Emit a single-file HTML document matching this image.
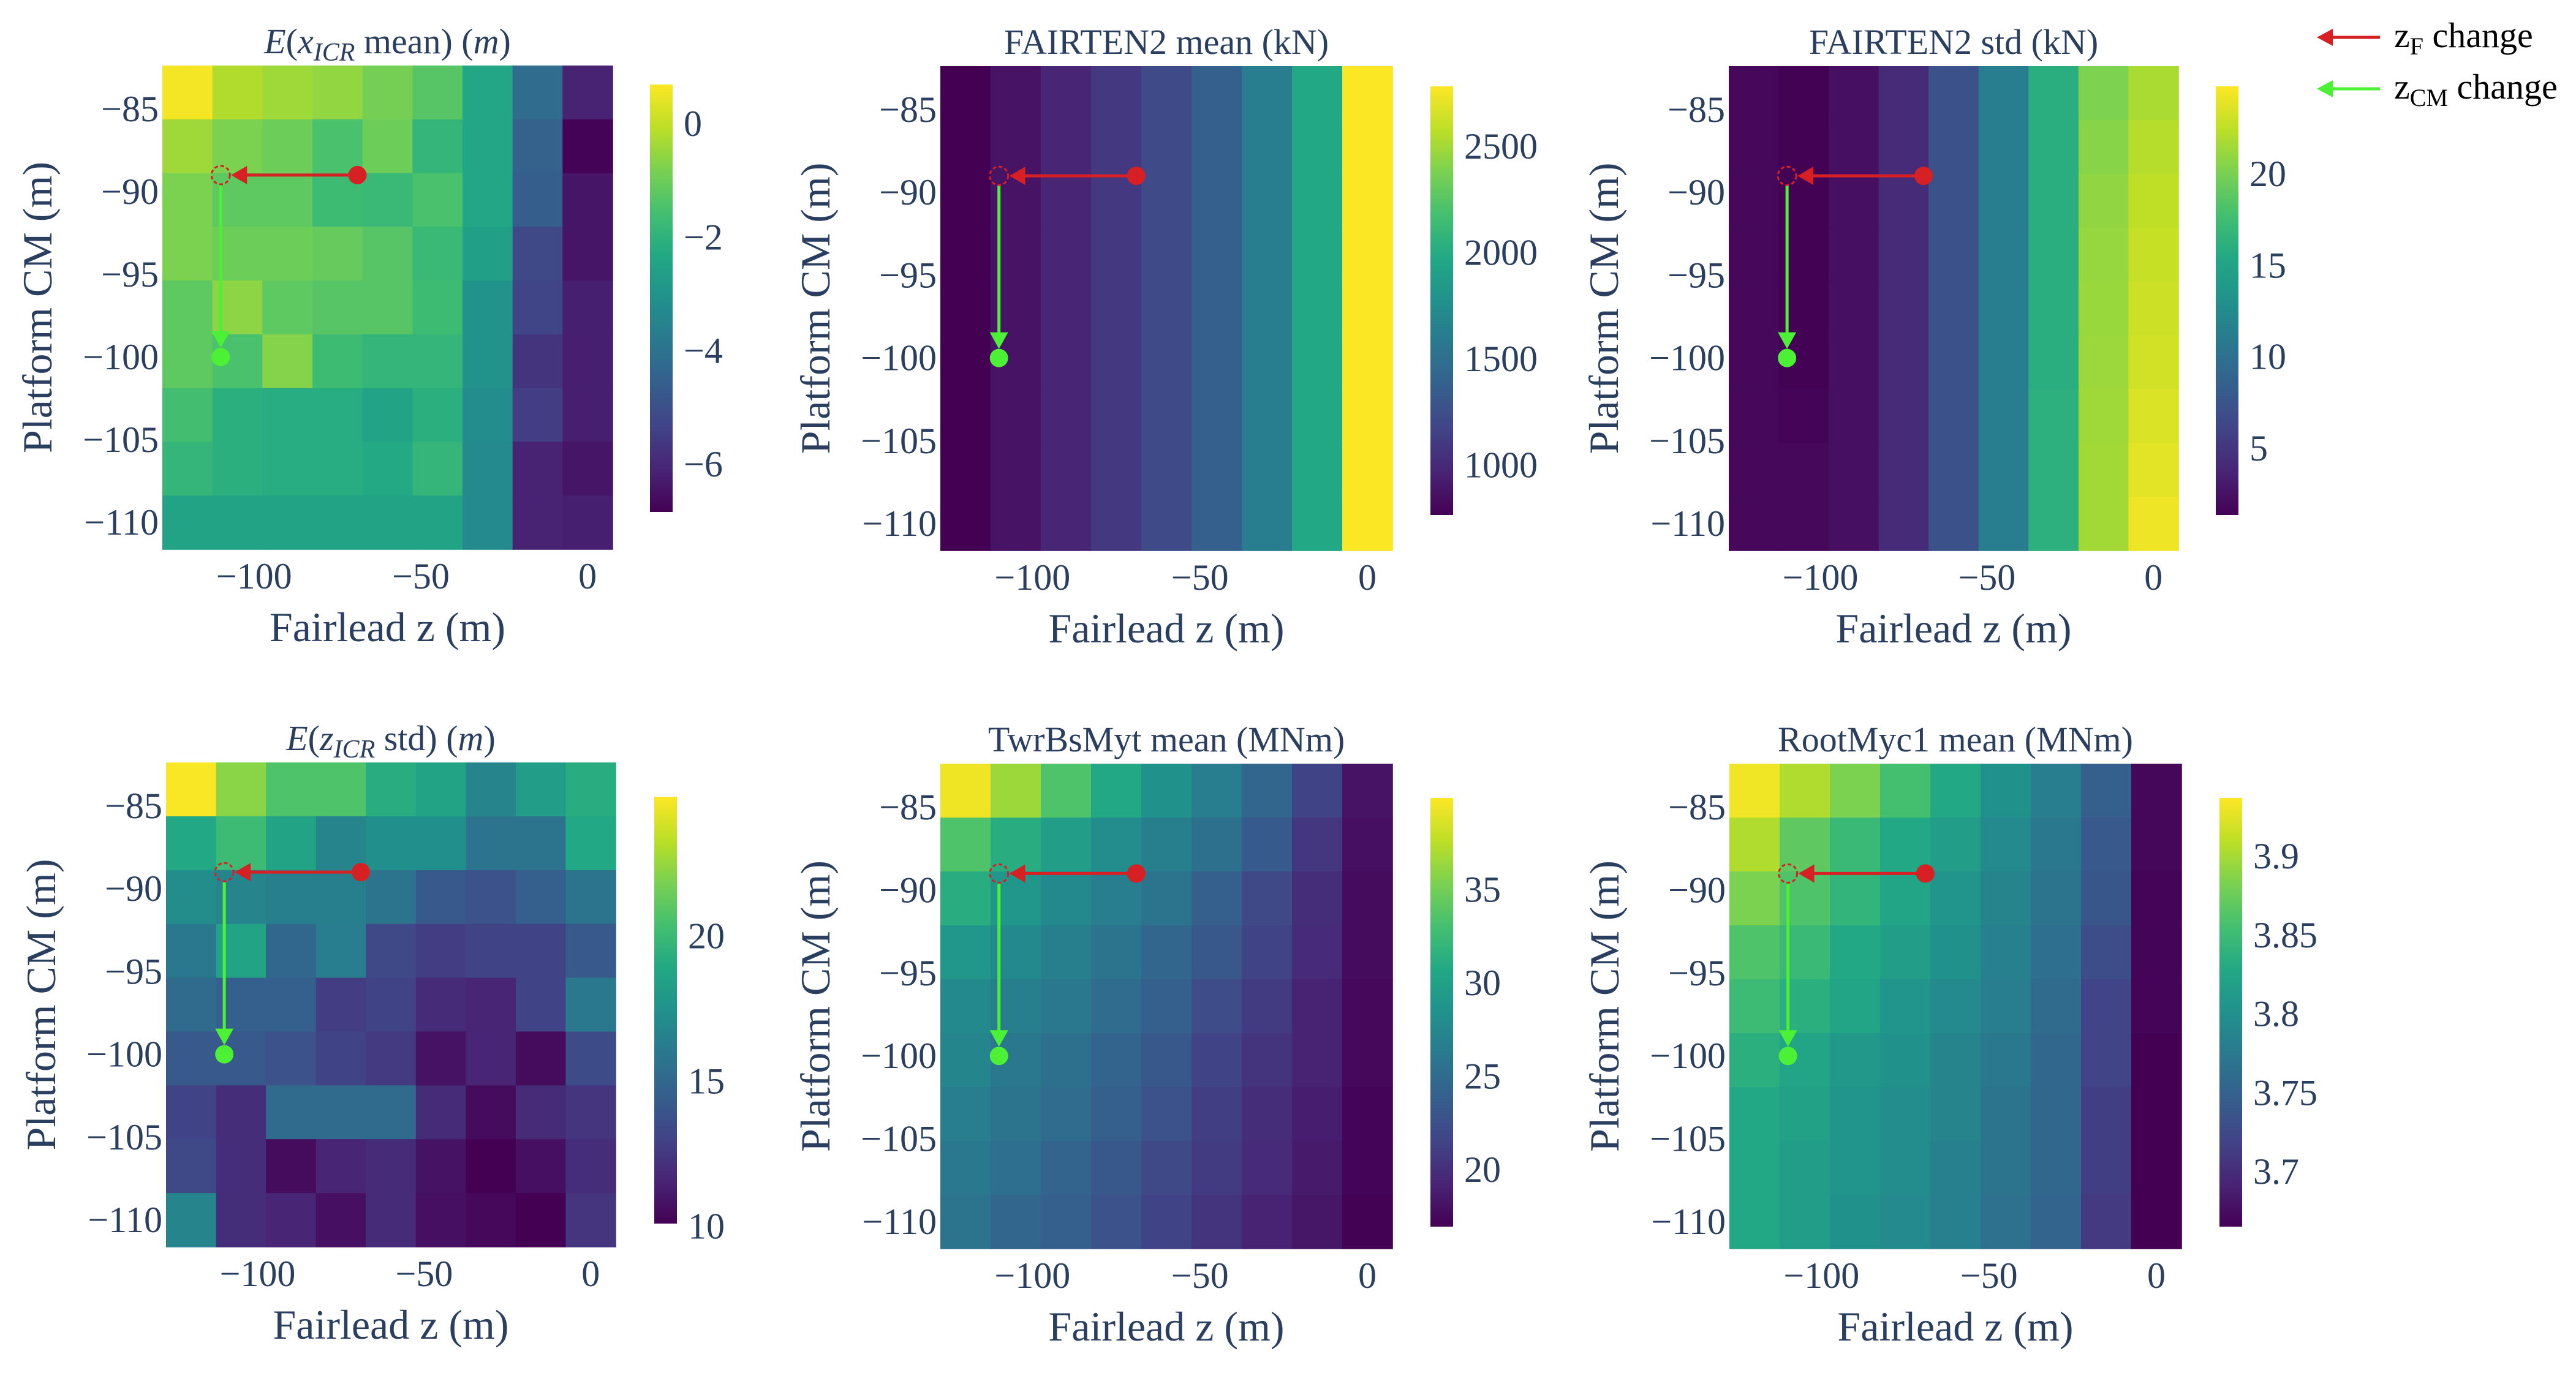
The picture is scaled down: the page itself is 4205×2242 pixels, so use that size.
<!DOCTYPE html>
<html><head><meta charset="utf-8">
<style>
html,body{margin:0;padding:0;background:#fff;}
svg{display:block;}
svg text{font-family:"Liberation Serif","DejaVu Serif",serif !important;}
</style></head>
<body>
<svg id="fig" xmlns="http://www.w3.org/2000/svg" width="4205" height="2242" viewBox="0 0 4205 2242" font-family="Liberation Serif, serif">
<defs>
<linearGradient id="viridis" x1="0" y1="1" x2="0" y2="0">
<stop offset="0" stop-color="#440154"/><stop offset="0.1" stop-color="#482475"/><stop offset="0.2" stop-color="#414487"/><stop offset="0.3" stop-color="#355f8d"/><stop offset="0.4" stop-color="#2a788e"/><stop offset="0.5" stop-color="#21918c"/><stop offset="0.6" stop-color="#22a884"/><stop offset="0.7" stop-color="#44bf70"/><stop offset="0.8" stop-color="#7ad151"/><stop offset="0.9" stop-color="#bddf26"/><stop offset="1" stop-color="#fde725"/>
</linearGradient>
</defs>
<g>
<g>
<line x1="3885" y1="61" x2="3805" y2="61" stroke="#d62024" stroke-width="5"/>
<polygon points="3782,61 3808,47 3808,75" fill="#d62024"/>
<text x="3908" y="77" font-size="58" fill="#000" font-family="Liberation Serif, serif">z<tspan font-size="40" dy="12">F</tspan><tspan dy="-12"> change</tspan></text>
</g>
<g>
<line x1="3885" y1="145" x2="3805" y2="145" stroke="#4cf035" stroke-width="5"/>
<polygon points="3782,145 3808,131 3808,159" fill="#4cf035"/>
<text x="3908" y="161" font-size="58" fill="#000" font-family="Liberation Serif, serif">z<tspan font-size="40" dy="12">CM</tspan><tspan dy="-12"> change</tspan></text>
</g>
</g>
</svg>
<script>
// Shared axes data
const xCats = [-120,-105,-90,-75,-60,-45,-30,-15,0];
const yCats = [-84,-87.25,-90.5,-93.75,-97,-100.25,-103.5,-106.75,-110];
const xTicks = [-100,-50,0];
const yTicks = [-85,-90,-95,-100,-105,-110];
const redStart = [-69, -89];
const pivot = [-110, -89];
const greenEnd = [-110, -100];

// Panel values (rows top->bottom, cols left->right)
const xicrMean = [
[0.6,-0.2,-0.4,-0.55,-0.9,-1.3,-2.4,-4.2,-6.1],
[-0.4,-0.8,-1.0,-1.5,-1.0,-1.9,-2.4,-4.5,-6.8],
[-0.8,-1.2,-1.2,-1.7,-1.8,-1.5,-2.4,-4.6,-6.4],
[-0.8,-1.0,-1.0,-1.1,-1.3,-1.8,-2.6,-5.2,-6.4],
[-1.2,-0.6,-1.2,-1.3,-1.3,-1.7,-3.0,-5.3,-6.2],
[-1.2,-1.5,-0.7,-1.7,-1.9,-1.9,-3.0,-5.7,-6.2],
[-1.6,-2.1,-2.2,-2.2,-2.5,-2.1,-3.2,-5.5,-6.2],
[-1.9,-2.1,-2.2,-2.2,-2.3,-1.9,-3.3,-6.1,-6.4],
[-2.5,-2.5,-2.5,-2.5,-2.5,-2.5,-3.3,-6.1,-6.2]];
const fairtenMean = [
[765,870,970,1090,1210,1370,1610,1975,2780],
[765,870,970,1090,1210,1370,1610,1975,2780],
[765,870,970,1090,1210,1370,1610,1975,2780],
[765,870,970,1090,1210,1370,1610,1975,2780],
[765,870,970,1090,1210,1370,1610,1975,2780],
[765,870,970,1090,1210,1370,1610,1975,2780],
[765,870,970,1090,1210,1370,1610,1975,2780],
[765,870,970,1090,1210,1370,1610,1975,2780],
[765,870,970,1090,1210,1370,1610,1975,2780]];
const fairtenStd = [
[1.8,1.4,2.3,4.2,7.2,11.2,16.0,20.2,21.8],
[1.8,1.4,2.3,4.2,7.2,11.2,16.0,20.6,22.2],
[1.8,1.4,2.3,4.2,7.2,11.2,16.0,20.9,22.5],
[1.8,1.4,2.3,4.2,7.2,11.2,16.0,21.1,22.8],
[1.8,1.4,2.3,4.2,7.2,11.2,16.0,21.2,23.0],
[1.8,1.4,2.3,4.2,7.2,11.2,16.0,21.3,23.2],
[1.8,1.6,2.3,4.2,7.2,11.2,16.2,21.4,23.5],
[1.8,1.8,2.3,4.2,7.2,11.2,16.2,21.5,23.8],
[1.8,1.8,2.3,4.2,7.2,11.2,16.2,21.5,24.2]];
const zicrStd = [
[24.7,22.2,20.7,20.7,19.2,18.6,16.7,18.2,19.2],
[18.9,20.1,18.6,16.7,17.4,17.4,15.7,15.7,18.9],
[17.2,16.7,16.4,16.4,15.7,14.2,13.8,14.5,15.7],
[16.0,18.6,15.0,16.3,13.3,12.7,13.0,13.0,14.2],
[15.2,14.5,14.5,12.7,13.0,11.9,11.6,13.0,16.0],
[14.2,14.2,13.8,13.0,12.6,10.8,11.6,10.5,13.5],
[13.0,12.0,15.2,15.2,15.2,11.9,10.5,11.9,12.3],
[13.3,12.0,10.5,11.6,11.9,10.8,10.1,10.7,12.0],
[16.7,12.0,11.6,10.7,11.9,10.7,10.4,10.1,12.3]];
const twrMean = [
[39.4,36.5,33.5,30.7,28.4,26.6,24.5,21.5,18.1],
[33.5,31.2,29.6,28.0,26.8,25.4,23.4,20.6,17.9],
[31.2,28.9,27.7,26.6,25.7,23.8,22.0,19.9,17.6],
[28.9,27.7,26.8,25.7,24.5,23.2,21.5,19.7,17.6],
[27.7,26.8,26.1,25.0,23.8,22.2,20.9,19.2,17.4],
[27.3,26.1,25.4,24.3,23.2,21.5,20.4,19.2,17.4],
[26.6,25.7,25.0,23.8,22.7,21.1,19.9,18.8,17.2],
[26.1,25.2,24.3,23.2,22.0,20.9,19.7,18.6,17.2],
[25.7,24.5,23.8,22.7,21.5,20.4,19.2,18.3,17.0]];
const rootMean = [
[3.932,3.904,3.883,3.855,3.828,3.801,3.779,3.747,3.670],
[3.904,3.869,3.847,3.828,3.815,3.793,3.774,3.741,3.670],
[3.883,3.861,3.842,3.823,3.806,3.787,3.768,3.738,3.668],
[3.861,3.847,3.828,3.815,3.801,3.782,3.763,3.728,3.668],
[3.850,3.836,3.823,3.806,3.793,3.779,3.760,3.719,3.668],
[3.836,3.823,3.809,3.801,3.787,3.774,3.755,3.719,3.665],
[3.828,3.820,3.806,3.796,3.787,3.768,3.755,3.714,3.665],
[3.828,3.815,3.806,3.796,3.782,3.768,3.755,3.714,3.665],
[3.828,3.815,3.801,3.793,3.782,3.766,3.752,3.711,3.665]];

// colorbar ranges and ticks
const cbRange1=[-6.84,0.69], cbTicks1=[0,-2,-4,-6];
const cbRange2=[765,2782], cbTicks2=[2500,2000,1500,1000];
const cbRange3=[1.34,24.8], cbTicks3=[20,15,10,5];
const cbRange4=[10.1,24.8], cbTicks4=[20,15,10];
const cbRange5=[16.95,39.9], cbTicks5=[35,30,25,20];
const cbRange6=[3.665,3.937], cbTicks6=[3.9,3.85,3.8,3.75,3.7];

const panels=[
 {name:'x-icr-mean',title:'x',data:xicrMean,rng:cbRange1,ticks:cbTicks1,L:265,R:1000,T:107,B:897,cbL:1061,cbT:138,cbB:836},
 {name:'fairten2-mean',title:'FAIRTEN2 mean (kN)',data:fairtenMean,rng:cbRange2,ticks:cbTicks2,L:1535,R:2273,T:108,B:899,cbL:2335,cbT:141,cbB:841},
 {name:'fairten2-std',title:'FAIRTEN2 std (kN)',data:fairtenStd,rng:cbRange3,ticks:cbTicks3,L:2822,R:3556,T:108,B:899,cbL:3617,cbT:141,cbB:841},
 {name:'z-icr-std',title:'z',data:zicrStd,rng:cbRange4,ticks:cbTicks4,L:271,R:1005,T:1245,B:2036,cbL:1068,cbT:1301,cbB:1998},
 {name:'twrbsmyt-mean',title:'TwrBsMyt mean (MNm)',data:twrMean,rng:cbRange5,ticks:cbTicks5,L:1535,R:2273,T:1247,B:2039,cbL:2335,cbT:1303,cbB:2003},
 {name:'rootmyc1-mean',title:'RootMyc1 mean (MNm)',data:rootMean,rng:cbRange6,ticks:cbTicks6,L:2823,R:3561,T:1247,B:2039,cbL:3623,cbT:1303,cbB:2003}
];

const vir=[[68,1,84],[72,36,117],[65,68,135],[53,95,141],[42,120,142],[33,145,140],[34,168,132],[68,191,112],[122,209,81],[189,223,38],[253,231,37]];
function viridis(t){t=Math.max(0,Math.min(1,t));const f=t*10,i=Math.min(9,Math.floor(f)),u=f-i;const a=vir[i],b=vir[i+1];
 return 'rgb('+a.map((c,k)=>Math.round(c+(b[k]-c)*u)).join(',')+')';}

const NS='http://www.w3.org/2000/svg';
const svg=document.getElementById('fig');
const FF='Liberation Serif, serif';
function mk(tag,attrs,parent){const e=document.createElementNS(NS,tag);for(const k in attrs)e.setAttribute(k,attrs[k]);if(tag==='text')e.setAttribute('font-family',FF);(parent||svg).appendChild(e);return e;}
const TXT='#2a3f5f';

panels.forEach(p=>{
 const g=mk('g',{});
 
 
 const x0=-127.5,x1=7.5,y0=-82.375,y1=-111.625;
 const sx=v=>p.L+(v-x0)/(x1-x0)*(p.R-p.L);
 const sy=v=>p.T+(v-y0)/(y1-y0)*(p.B-p.T);
 const cw=(p.R-p.L)/9,ch=(p.B-p.T)/9;
 p.data.forEach((row,ri)=>row.forEach((v,ci)=>{
  const r=mk('rect',{x:(sx(xCats[ci])-cw/2).toFixed(1),y:(sy(yCats[ri])-ch/2).toFixed(1),width:(cw+0.8).toFixed(1),height:(ch+0.8).toFixed(1),fill:viridis((v-p.rng[0])/(p.rng[1]-p.rng[0]))},g);
  
  
 }));
 xTicks.forEach(t=>{const e=mk('text',{x:sx(t),y:(p.B+64),'font-size':60,'text-anchor':'middle',fill:TXT},g);e.textContent=(t<0?'\u2212':'')+Math.abs(t);
  
  });
 yTicks.forEach(t=>{const e=mk('text',{x:p.L-6,y:sy(t)+20,'font-size':60,'text-anchor':'end',fill:TXT},g);e.textContent='\u2212'+Math.abs(t);
  
  });
 const xt=mk('text',{x:(p.L+p.R)/2,y:p.B+150,'font-size':68,'text-anchor':'middle',fill:TXT},g);xt.textContent='Fairlead z (m)';
 
 
 const yc=(p.T+p.B)/2,yx=p.L-205;
 const yt=mk('text',{x:yx,y:yc,'font-size':68,'text-anchor':'middle',fill:TXT,transform:'rotate(-90 '+yx+' '+yc+') translate(0 24)'},g);yt.textContent='Platform CM (m)';
 
 
 const tt=mk('text',{x:(p.L+p.R)/2,y:p.T-20,'font-size':58,'text-anchor':'middle',fill:TXT},g);
 
 
 if(p.title==='x'||p.title==='z'){
  tt.innerHTML='<tspan font-style="italic">E</tspan>(<tspan font-style="italic">'+p.title+'</tspan><tspan font-style="italic" font-size="42" dy="12">ICR</tspan><tspan dy="-12"> '+(p.title==='x'?'mean':'std')+') (</tspan><tspan font-style="italic">m</tspan>)';
 } else tt.textContent=p.title;
 const cb=mk('rect',{x:p.cbL,y:p.cbT,width:37,height:p.cbB-p.cbT,fill:'url(#viridis)'},g);
 
 
 p.ticks.forEach(t=>{const yy=p.cbB-(t-p.rng[0])/(p.rng[1]-p.rng[0])*(p.cbB-p.cbT);
  const e=mk('text',{x:p.cbL+55,y:yy+20,'font-size':60,fill:TXT},g);e.textContent=(t<0?'\u2212':'')+Math.abs(t);
  
  });
 const rx=sx(redStart[0]),ry=sy(redStart[1]),px=sx(pivot[0]),py=sy(pivot[1]),gx=sx(greenEnd[0]),gy=sy(greenEnd[1]);
 const rl=mk('line',{x1:rx,y1:ry,x2:px+40,y2:py,stroke:'#d62024','stroke-width':5},g);
 
 
 mk('polygon',{points:(px+17)+','+py+' '+(px+43)+','+(py-15)+' '+(px+43)+','+(py+15),fill:'#d62024'},g);
 const gl=mk('line',{x1:px,y1:py+16,x2:gx,y2:gy-40,stroke:'#4cf035','stroke-width':5},g);
 
 
 mk('polygon',{points:gx+','+(gy-15)+' '+(gx-15)+','+(gy-42)+' '+(gx+15)+','+(gy-42),fill:'#4cf035'},g);
 const rd=mk('circle',{cx:rx,cy:ry,r:15,fill:'#d62024'},g);
 
 
 const hc=mk('circle',{cx:px,cy:py,r:15,fill:'none',stroke:'#d62024','stroke-width':3,'stroke-dasharray':'6 4'},g);
 
 
 const gd=mk('circle',{cx:gx,cy:gy,r:15,fill:'#4cf035'},g);
 
 
});
</script>
</body></html>
